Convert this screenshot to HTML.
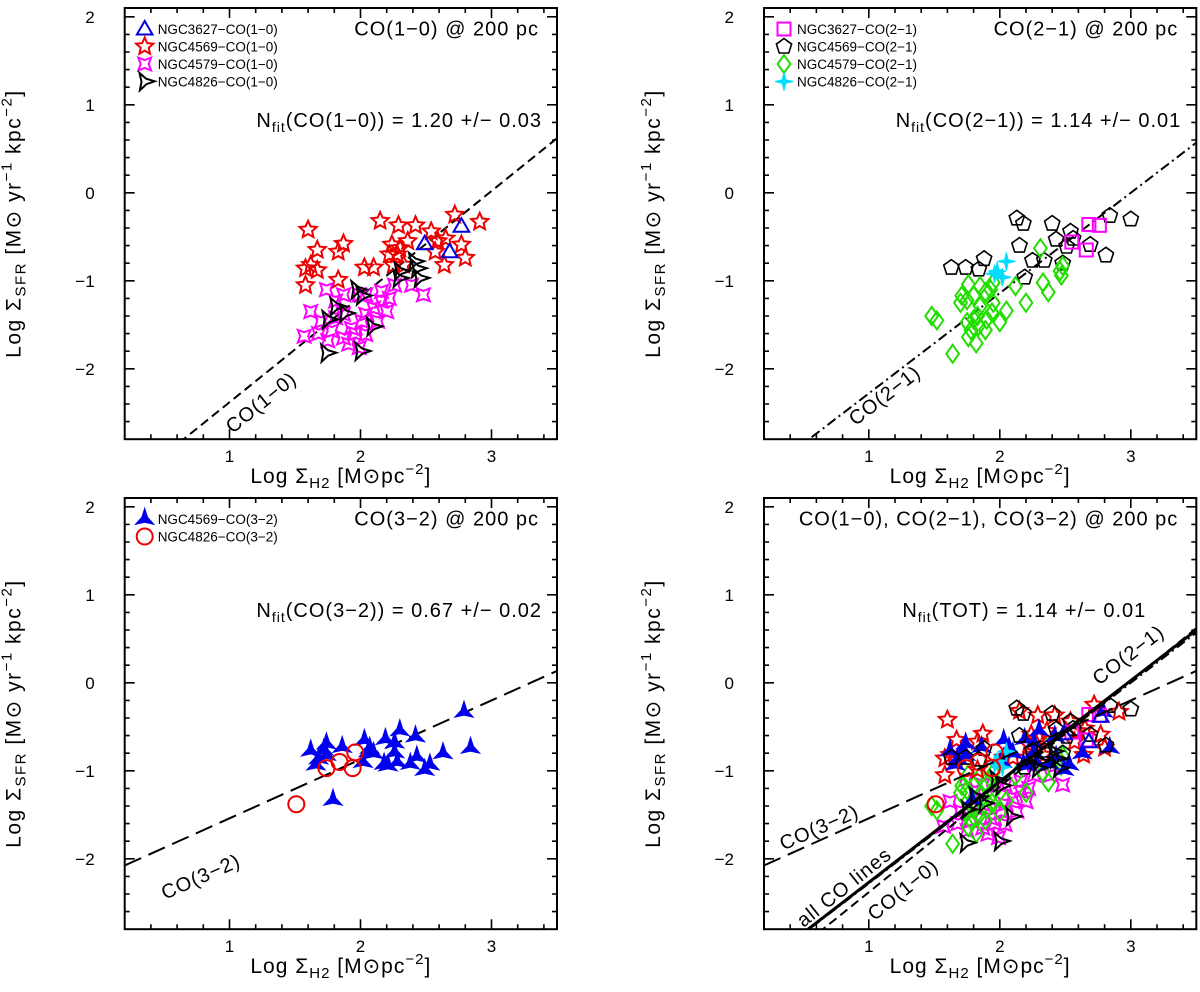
<!DOCTYPE html>
<html><head><meta charset="utf-8">
<style>
html,body{margin:0;padding:0;background:#fff;}
svg{display:block;font-family:"Liberation Sans",sans-serif;}
</style></head>
<body>
<svg id="fig" width="1200" height="992" viewBox="0 0 1200 992" xmlns="http://www.w3.org/2000/svg"></svg>
<script>
// ---------- data ----------
const xTicks = [1, 2, 3];
const yTicks = [-2, -1, 0, 1, 2];
const xTickLabels = ["1", "2", "3"];
const yTickLabels = ["\u22122", "\u22121", "0", "1", "2"];

const n3627co10X = [2.49, 2.77, 2.68];
const n3627co10Y = [-0.58, -0.38, -0.67];
const n4569co10X = [1.60,1.67,1.58,1.62,1.67,1.58,1.83,1.83,1.87,2.03,2.10,2.15,2.29,2.42,2.24,2.30,2.36,2.22,2.28,2.25,2.33,2.54,2.59,2.65,2.72,2.77,2.80,2.91,2.64,2.57];
const n4569co10Y = [-0.42,-0.65,-0.86,-0.82,-0.88,-1.05,-0.99,-0.67,-0.58,-0.85,-0.85,-0.32,-0.37,-0.37,-0.59,-0.63,-0.55,-0.70,-0.70,-0.82,-0.82,-0.44,-0.55,-0.52,-0.25,-0.59,-0.74,-0.33,-0.82,-0.67];
const n4579co10X = [1.57,1.62,1.74,1.81,1.70,1.78,1.87,1.93,1.91,2.01,2.04,2.10,2.16,2.20,2.22,2.26,2.39,2.48,1.99,2.04,1.96,1.87,1.75,1.81,2.04,2.13,1.99,1.68,1.87,2.16];
const n4579co10Y = [-1.63,-1.35,-1.10,-1.23,-1.46,-1.57,-1.38,-1.54,-1.72,-1.46,-1.61,-1.31,-1.23,-1.35,-1.20,-1.05,-1.05,-1.16,-1.16,-1.16,-1.60,-1.65,-1.68,-1.42,-1.38,-1.46,-1.76,-1.60,-1.16,-1.12];
const n4826co10X = [1.74,2.00,2.09,1.88,1.81,1.75,1.97,2.01,2.29,2.41,2.43,2.45,2.30];
const n4826co10Y = [-1.82,-1.80,-1.52,-1.37,-1.29,-1.44,-1.10,-1.17,-0.97,-0.78,-0.86,-0.97,-0.89];

const n3627co21X = [2.68, 2.76, 2.55, 2.66];
const n3627co21Y = [-0.36, -0.37, -0.56, -0.65];
const n4569co21X = [1.63,1.74,1.84,1.88,2.13,2.18,2.15,2.19,2.25,2.34,2.40,2.43,2.54,2.56,2.51,2.48,2.69,2.81,2.84,3.00];
const n4569co21Y = [-0.85,-0.85,-0.87,-0.75,-0.29,-0.35,-0.60,-0.96,-0.77,-0.77,-0.35,-0.53,-0.44,-0.52,-0.61,-0.80,-0.59,-0.71,-0.26,-0.30];
const n4579co21X = [1.52,1.48,1.64,1.71,1.76,1.85,1.75,1.70,1.80,1.89,1.93,1.75,1.80,1.84,1.78,1.76,1.82,1.89,1.94,1.95,2.00,2.05,2.12,2.20,2.31,2.33,2.37,2.47,2.48,2.46,1.83,1.85,1.90,1.95];
const n4579co21Y = [-1.45,-1.40,-1.83,-1.17,-1.04,-1.06,-1.22,-1.25,-1.17,-1.13,-1.10,-1.47,-1.44,-1.51,-1.56,-1.64,-1.71,-1.56,-1.36,-1.25,-1.47,-1.34,-1.06,-1.25,-0.63,-1.02,-1.13,-0.94,-0.83,-0.89,-1.40,-1.29,-1.44,-1.02];
const n4826co21X = [2.05, 1.96, 2.02, 1.98];
const n4826co21Y = [-0.78, -0.92, -0.96, -0.89];

const n4569co32X = [2.79,2.84,2.63,2.49,2.53,2.43,2.42,2.30,2.26,2.19,2.26,2.28,2.38,2.18,2.21,2.10,2.07,2.03,2.02,1.86,1.74,1.74,1.79,2.06,1.62,1.68,1.66,1.72];
const n4569co32Y = [-0.33,-0.74,-0.80,-0.99,-0.93,-0.84,-0.61,-0.54,-0.68,-0.64,-0.79,-0.90,-0.92,-0.92,-0.94,-0.80,-0.74,-0.65,-0.90,-0.73,-0.69,-0.82,-1.33,-0.78,-0.77,-0.86,-0.93,-0.76];
const n4826co32X = [1.74, 1.84, 1.94, 1.96, 1.51];
const n4826co32Y = [-0.97, -0.90, -0.97, -0.79, -1.38];

// fit lines: slope, intercept
const fitSlopes = {co10: 1.20, co21: 1.14, co32: 0.67, all: 1.147};
const fitIntercepts = {co10: -3.58, co21: -3.42, co32: -2.21, all: -3.415};

// ---------- drawing ----------
const NS = "http://www.w3.org/2000/svg";
const svg = document.getElementById("fig");
const XMIN = 0.2, XMAX = 3.5, YMIN = -2.8, YMAX = 2.1;
const XU = 131, YU = 88;
const PW = (XMAX - XMIN) * XU, PH = (YMAX - YMIN) * YU;

function mk(tag, attrs, parent) {
  const e = document.createElementNS(NS, tag);
  for (const k in attrs) e.setAttribute(k, attrs[k]);
  (parent || svg).appendChild(e);
  return e;
}

function panel(x0, y0, name) {
  const g = mk("g", {});
  
  
  const sx = v => x0 + (v - XMIN) * XU;
  const sy = v => y0 + (YMAX - v) * YU;
  const fr = mk("rect", {x: x0, y: y0, width: PW, height: PH, fill: "none", stroke: "#000", "stroke-width": 2}, g);
  
  
  let d = "";
  for (let i = 1; i <= 16; i++) {
    const v = XMIN + i * 0.2;
    if (v > XMAX + 1e-6) break;
    const major = Math.abs(v - Math.round(v)) < 1e-6;
    const L = major ? 10 : 5;
    const px = sx(v);
    d += `M${px},${y0 + PH}v${-L}M${px},${y0}v${L}`;
  }
  for (let i = 1; i <= 24; i++) {
    const v = YMIN + i * 0.2;
    if (v > YMAX + 1e-6) break;
    const major = Math.abs(v - Math.round(v)) < 1e-6;
    const L = major ? 10 : 5;
    const py = sy(v);
    d += `M${x0},${py}h${L}M${x0 + PW},${py}h${-L}`;
  }
  const tk = mk("path", {d: d, stroke: "#000", "stroke-width": 1.6, fill: "none"}, g);
  
  
  xTicks.forEach((v, i) => {
    const t = mk("text", {x: sx(v), y: y0 + PH + 23, "font-size": 17, "text-anchor": "middle"}, g);
    t.textContent = xTickLabels[i];
    
    
  });
  yTicks.forEach((v, i) => {
    const t = mk("text", {x: x0 - 30, y: sy(v) + 6, "font-size": 17, "text-anchor": "end"}, g);
    t.textContent = yTickLabels[i];
    
    
  });
  const xt = mk("text", {x: x0 + PW / 2, y: y0 + PH + 44, "font-size": 21, "letter-spacing": 1, "text-anchor": "middle"}, g);
  xt.innerHTML = 'Log \u03A3<tspan font-size="15" dy="5">H2</tspan><tspan dy="-5"> [M\u2299pc</tspan><tspan font-size="15" dy="-9">\u22122</tspan><tspan dy="9">]</tspan>';
  
  
  const yc = y0 + PH / 2, xc = x0 - 104;
  const yt = mk("text", {x: xc, y: yc, "font-size": 21, "letter-spacing": 1.5, "text-anchor": "middle", transform: `rotate(-90 ${xc} ${yc})`}, g);
  yt.innerHTML = 'Log \u03A3<tspan font-size="15" dy="5">SFR</tspan><tspan dy="-5"> [M\u2299 yr</tspan><tspan font-size="15" dy="-9">\u22121</tspan><tspan dy="9">  kpc</tspan><tspan font-size="15" dy="-9">\u22122</tspan><tspan dy="9">]</tspan>';
  
  
  const cid = "clip" + name;
  const cp = mk("clipPath", {id: cid}, g);
  mk("rect", {x: x0, y: y0, width: PW, height: PH}, cp);
  const inner = mk("g", {"clip-path": `url(#${cid})`}, g);
  return {g, inner, sx, sy, x0, y0};
}

function fitLine(P, key, dash, w, name) {
  const m = fitSlopes[key], b = fitIntercepts[key];
  const l = mk("line", {x1: P.sx(XMIN), y1: P.sy(m * XMIN + b), x2: P.sx(XMAX), y2: P.sy(m * XMAX + b),
    stroke: "#000", "stroke-width": w, "stroke-dasharray": dash, fill: "none"}, P.inner);
  
  
}

function starPts(cx, cy, n, ro, ri, rot) {
  const p = [];
  for (let i = 0; i < 2 * n; i++) {
    const a = rot + i * Math.PI / n;
    const r = i % 2 ? ri : ro;
    p.push((cx + r * Math.sin(a)).toFixed(1) + "," + (cy - r * Math.cos(a)).toFixed(1));
  }
  return p.join(" ");
}

function marker(parent, type, cx, cy, name) {
  let e;
  const sw = 2;
  switch (type) {
    case "tri": e = mk("polygon", {points: starPts(cx, cy + 1, 3, 9, 4.5, 0).split(" ").filter((_, i) => i % 2 === 0).join(" "), fill: "none", stroke: "#0000dd", "stroke-width": sw}, parent); break;
    case "star5": e = mk("polygon", {points: starPts(cx, cy, 5, 9, 4.2, 0), fill: "none", stroke: "#ee0000", "stroke-width": sw}, parent); break;
    case "star4": e = mk("polygon", {points: starPts(cx, cy, 4, 9, 4, Math.PI / 4), fill: "none", stroke: "#ff00ff", "stroke-width": sw}, parent); break;
    case "tri3": e = mk("polygon", {points: starPts(cx, cy, 3, 10, 3.2, Math.PI / 3 + 0.5), fill: "none", stroke: "#000", "stroke-width": sw}, parent); break;
    case "pent": e = mk("polygon", {points: starPts(cx, cy, 5, 8, 8 * Math.cos(Math.PI / 5), 0), fill: "none", stroke: "#000", "stroke-width": 1.6}, parent); break;
    case "sq": e = mk("rect", {x: cx - 6.5, y: cy - 6.5, width: 13, height: 13, fill: "none", stroke: "#ff00ff", "stroke-width": sw}, parent); break;
    case "dia": e = mk("polygon", {points: starPts(cx, cy, 2, 9, 9 * Math.SQRT1_2, 0), fill: "none", stroke: "#22dd00", "stroke-width": sw}, parent); break;
    case "cyan": e = mk("polygon", {points: starPts(cx, cy, 4, 9, 2.5, 0), fill: "#00ddff", stroke: "#00ddff", "stroke-width": 1}, parent); break;
    case "blue3": e = mk("polygon", {points: starPts(cx, cy, 3, 9, 2.8, 0), fill: "#0000ee", stroke: "#0000ee", "stroke-width": 2}, parent); break;
    case "circ": e = mk("circle", {cx: cx, cy: cy, r: 8, fill: "none", stroke: "#ee0000", "stroke-width": sw}, parent); break;
  }
  
  
  return e;
}

function series(P, xs, ys, type, name) {
  const g = mk("g", {}, P.inner);
  
  
  xs.forEach((x, i) => marker(g, type, P.sx(x), P.sy(ys[i]), name + '-point'));
}

function text(P, str, x, y, size, anchor, name) {
  const t = mk("text", {x: x, y: y, "font-size": size, "letter-spacing": 1, "text-anchor": anchor}, P.g);
  t.innerHTML = str;
  
  
  return t;
}

function lineLabel(P, str, dx, dy, angle, name) {
  const x = P.sx(dx), y = P.sy(dy);
  const t = mk("text", {x: x, y: y + 7, "font-size": 20, "letter-spacing": 1, "text-anchor": "middle", transform: `rotate(${-angle} ${x} ${y})`}, P.g);
  t.textContent = str;
  
  
}

function legend(P, entries) {
  const lg = mk("g", {}, P.g);
  
  
  entries.forEach((en, i) => {
    const y = P.y0 + 21 + i * 17.5;
    const eg = mk("g", {}, lg);
    
    
    marker(eg, en[0], P.x0 + 20, y, 'legend-marker');
    const t = mk("text", {x: P.x0 + 33, y: y + 5, "font-size": 13.5}, eg);
    t.textContent = en[1];
    
    
  });
}

const LX = 124.7, RX = 764, TY = 8, BY = 498;

const P1 = panel(LX, TY, "panel-co10");
fitLine(P1, "co10", "9,5", 2, "fit-line-co10");
series(P1, n4569co10X, n4569co10Y, "star5", "series-ngc4569-co10");
series(P1, n4579co10X, n4579co10Y, "star4", "series-ngc4579-co10");
series(P1, n4826co10X, n4826co10Y, "tri3", "series-ngc4826-co10");
series(P1, n3627co10X, n3627co10Y, "tri", "series-ngc3627-co10");
legend(P1, [["tri", "NGC3627\u2212CO(1\u22120)"], ["star5", "NGC4569\u2212CO(1\u22120)"], ["star4", "NGC4579\u2212CO(1\u22120)"], ["tri3", "NGC4826\u2212CO(1\u22120)"]]);
text(P1, "CO(1\u22120) @ 200 pc", LX + PW - 18, P1.sy(1.79), 20, "end", "panel-title");
text(P1, 'N<tspan font-size="14" dy="5">fit</tspan><tspan dy="-5">(CO(1\u22120)) = 1.20  +/\u2212 0.03</tspan>', LX + PW - 15, P1.sy(0.75), 20, "end", "fit-annotation");
lineLabel(P1, "CO(1\u22120)", 1.24, -2.38, 39, "line-label-co10");

const P2 = panel(RX, TY, "panel-co21");
fitLine(P2, "co21", "10,4,2,4", 2, "fit-line-co21");
series(P2, n4569co21X, n4569co21Y, "pent", "series-ngc4569-co21");
series(P2, n4579co21X, n4579co21Y, "dia", "series-ngc4579-co21");
series(P2, n4826co21X, n4826co21Y, "cyan", "series-ngc4826-co21");
series(P2, n3627co21X, n3627co21Y, "sq", "series-ngc3627-co21");
legend(P2, [["sq", "NGC3627\u2212CO(2\u22121)"], ["pent", "NGC4569\u2212CO(2\u22121)"], ["dia", "NGC4579\u2212CO(2\u22121)"], ["cyan", "NGC4826\u2212CO(2\u22121)"]]);
text(P2, "CO(2\u22121) @ 200 pc", RX + PW - 18, P2.sy(1.79), 20, "end", "panel-title");
text(P2, 'N<tspan font-size="14" dy="5">fit</tspan><tspan dy="-5">(CO(2\u22121)) = 1.14 +/\u2212 0.01</tspan>', RX + PW - 15, P2.sy(0.75), 20, "end", "fit-annotation");
lineLabel(P2, "CO(2\u22121)", 1.12, -2.3, 37.5, "line-label-co21");

const P3 = panel(LX, BY, "panel-co32");
fitLine(P3, "co32", "18,8", 2, "fit-line-co32");
series(P3, n4569co32X, n4569co32Y, "blue3", "series-ngc4569-co32");
series(P3, n4826co32X, n4826co32Y, "circ", "series-ngc4826-co32");
legend(P3, [["blue3", "NGC4569\u2212CO(3\u22122)"], ["circ", "NGC4826\u2212CO(3\u22122)"]]);
text(P3, "CO(3\u22122) @ 200 pc", LX + PW - 18, P3.sy(1.79), 20, "end", "panel-title");
text(P3, 'N<tspan font-size="14" dy="5">fit</tspan><tspan dy="-5">(CO(3\u22122)) = 0.67 +/\u2212 0.02</tspan>', LX + PW - 15, P3.sy(0.75), 20, "end", "fit-annotation");
lineLabel(P3, "CO(3\u22122)", 0.78, -2.2, 24, "line-label-co32");

const P4 = panel(RX, BY, "panel-all-co");
series(P4, n4579co10X, n4579co10Y, "star4", "series-ngc4579-co10");
series(P4, n4579co21X, n4579co21Y, "dia", "series-ngc4579-co21");
series(P4, n4569co10X, n4569co10Y, "star5", "series-ngc4569-co10");
series(P4, n4569co32X, n4569co32Y, "blue3", "series-ngc4569-co32");
series(P4, n4569co21X, n4569co21Y, "pent", "series-ngc4569-co21");
series(P4, n4826co21X, n4826co21Y, "cyan", "series-ngc4826-co21");
series(P4, n4826co10X, n4826co10Y, "tri3", "series-ngc4826-co10");
series(P4, n3627co21X, n3627co21Y, "sq", "series-ngc3627-co21");
series(P4, n3627co10X, n3627co10Y, "tri", "series-ngc3627-co10");
series(P4, n4826co32X, n4826co32Y, "circ", "series-ngc4826-co32");
fitLine(P4, "co10", "9,5", 2, "fit-line-co10");
fitLine(P4, "co32", "18,8", 2, "fit-line-co32");
fitLine(P4, "all", "", 3, "fit-line-all");
fitLine(P4, "co21", "10,4,2,4", 2, "fit-line-co21");
text(P4, "CO(1\u22120), CO(2\u22121), CO(3\u22122) @ 200 pc", RX + PW - 18, P4.sy(1.79), 20, "end", "panel-title");
text(P4, 'N<tspan font-size="14" dy="5">fit</tspan><tspan dy="-5">(TOT) = 1.14 +/\u2212 0.01</tspan>', RX + PW - 50, P4.sy(0.75), 20, "end", "fit-annotation");
lineLabel(P4, "CO(3\u22122)", 0.62, -1.64, 24, "line-label-co32");
lineLabel(P4, "all CO lines", 0.81, -2.32, 38.5, "line-label-all");
lineLabel(P4, "CO(1\u22120)", 1.26, -2.35, 39, "line-label-co10");
lineLabel(P4, "CO(2\u22121)", 2.98, 0.32, 37.5, "line-label-co21");
</script>
</body></html>
